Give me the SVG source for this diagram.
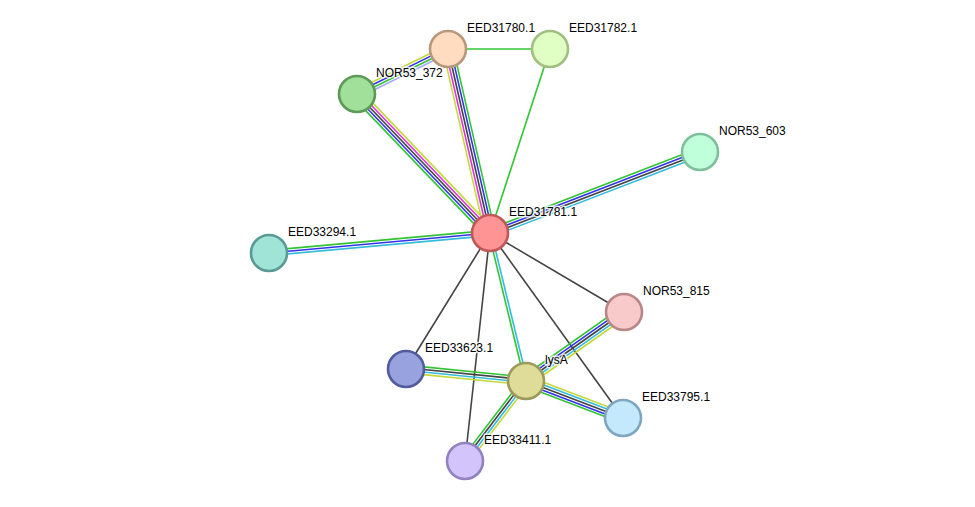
<svg xmlns="http://www.w3.org/2000/svg" width="975" height="507" viewBox="0 0 975 507">
<style>
.e line{stroke-width:1.6;fill:none}
.g{stroke:#33c433}.b{stroke:#3333ee}.k{stroke:#444444}.c{stroke:#33bbdd}.m{stroke:#dd33dd}.y{stroke:#c4d83a}.h{stroke:#a8a8f8}
.n circle{stroke-width:2.6}
.n text{font-family:"Liberation Sans",Arial,sans-serif;font-size:12px;fill:#000;stroke:#fff;stroke-width:3;stroke-opacity:0.8;paint-order:stroke;stroke-linejoin:round}
</style>
<rect width="975" height="507" fill="#fff"/>
<g id="connectors" class="e">
  <!-- EED31780.1 -> central -->
  <g transform="translate(448,49) rotate(77.14)">
    <line class="y" x1="0" y1="5.2" x2="188.7" y2="5.2"/>
    <line class="m" x1="0" y1="2.6" x2="188.7" y2="2.6"/>
    <line class="k" x1="0" y1="0" x2="188.7" y2="0"/>
    <line class="b" x1="0" y1="-2.6" x2="188.7" y2="-2.6"/>
    <line class="g" x1="0" y1="-5.2" x2="188.7" y2="-5.2"/>
  </g>
  <!-- NOR53_372 -> central -->
  <g transform="translate(357,94) rotate(46.26)">
    <line class="y" x1="0" y1="-5.2" x2="192.4" y2="-5.2"/>
    <line class="m" x1="0" y1="-2.6" x2="192.4" y2="-2.6"/>
    <line class="k" x1="0" y1="0" x2="192.4" y2="0"/>
    <line class="b" x1="0" y1="2.6" x2="192.4" y2="2.6"/>
    <line class="g" x1="0" y1="5.2" x2="192.4" y2="5.2"/>
  </g>
  <!-- NOR53_372 -> EED31780.1 -->
  <g transform="translate(357,94) rotate(-26.31)">
    <line class="y" x1="0" y1="-3.9" x2="101.5" y2="-3.9"/>
    <line class="b" x1="0" y1="-1.3" x2="101.5" y2="-1.3"/>
    <line class="g" x1="0" y1="1.3" x2="101.5" y2="1.3"/>
    <line class="h" x1="0" y1="3.9" x2="101.5" y2="3.9"/>
  </g>
  <line class="g" x1="448" y1="49" x2="550" y2="49"/>
  <line class="g" x1="550" y1="49" x2="490" y2="233"/>
  <!-- central -> NOR53_603 -->
  <g transform="translate(490,233) rotate(-21.09)">
    <line class="g" x1="0" y1="-3.9" x2="225.1" y2="-3.9"/>
    <line class="b" x1="0" y1="-1.3" x2="225.1" y2="-1.3"/>
    <line class="k" x1="0" y1="1.3" x2="225.1" y2="1.3"/>
    <line class="c" x1="0" y1="3.9" x2="225.1" y2="3.9"/>
  </g>
  <!-- EED33294.1 -> central -->
  <g transform="translate(269,253) rotate(-5.17)">
    <line class="g" x1="0" y1="-2.6" x2="221.9" y2="-2.6"/>
    <line class="b" x1="0" y1="0" x2="221.9" y2="0"/>
    <line class="c" x1="0" y1="2.6" x2="221.9" y2="2.6"/>
  </g>
  <!-- single black -->
  <line class="k" x1="490" y1="233" x2="624" y2="312"/>
  <line class="k" x1="490" y1="233" x2="406" y2="369"/>
  <line class="k" x1="490" y1="233" x2="465" y2="461"/>
  <line class="k" x1="490" y1="233" x2="623" y2="418"/>
  <!-- central -> lysA -->
  <g transform="translate(490,233) rotate(76.33)">
    <line class="g" x1="0" y1="1.3" x2="152.3" y2="1.3"/>
    <line class="c" x1="0" y1="-1.3" x2="152.3" y2="-1.3"/>
  </g>
  <!-- lysA -> NOR53_815 -->
  <g transform="translate(526,381) rotate(-35.15)">
    <line class="g" x1="0" y1="-5.2" x2="119.9" y2="-5.2"/>
    <line class="b" x1="0" y1="-2.6" x2="119.9" y2="-2.6"/>
    <line class="k" x1="0" y1="0" x2="119.9" y2="0"/>
    <line class="c" x1="0" y1="2.6" x2="119.9" y2="2.6"/>
    <line class="y" x1="0" y1="5.2" x2="119.9" y2="5.2"/>
  </g>
  <!-- EED33623.1 -> lysA -->
  <g transform="translate(406,369) rotate(5.71)">
    <line class="g" x1="0" y1="-3.9" x2="120.6" y2="-3.9"/>
    <line class="k" x1="0" y1="-1.3" x2="120.6" y2="-1.3"/>
    <line class="c" x1="0" y1="1.3" x2="120.6" y2="1.3"/>
    <line class="y" x1="0" y1="3.9" x2="120.6" y2="3.9"/>
  </g>
  <!-- lysA -> EED33795.1 -->
  <g transform="translate(526,381) rotate(20.88)">
    <line class="y" x1="0" y1="-5.2" x2="103.8" y2="-5.2"/>
    <line class="c" x1="0" y1="-2.6" x2="103.8" y2="-2.6"/>
    <line class="k" x1="0" y1="0" x2="103.8" y2="0"/>
    <line class="b" x1="0" y1="2.6" x2="103.8" y2="2.6"/>
    <line class="g" x1="0" y1="5.2" x2="103.8" y2="5.2"/>
  </g>
  <!-- EED33411.1 -> lysA -->
  <g transform="translate(465,461) rotate(-52.67)">
    <line class="g" x1="0" y1="-3.9" x2="100.6" y2="-3.9"/>
    <line class="k" x1="0" y1="-1.3" x2="100.6" y2="-1.3"/>
    <line class="c" x1="0" y1="1.3" x2="100.6" y2="1.3"/>
    <line class="y" x1="0" y1="3.9" x2="100.6" y2="3.9"/>
  </g>
</g>
<g id="EED31780.1" class="n"><circle cx="448" cy="49" r="18" fill="#ffdcbf" stroke="#b8987c"/><text x="467" y="32">EED31780.1</text></g>
<g id="EED31782.1" class="n"><circle cx="550" cy="49" r="18" fill="#e0ffc4" stroke="#a0bf80"/><text x="569" y="32">EED31782.1</text></g>
<g id="NOR53_372" class="n"><circle cx="357" cy="94" r="18" fill="#a0e09a" stroke="#5c9a56"/><text x="376" y="77">NOR53_372</text></g>
<g id="NOR53_603" class="n"><circle cx="700" cy="152" r="18" fill="#bfffd9" stroke="#7fc09c"/><text x="719" y="135">NOR53_603</text></g>
<g id="EED31781.1" class="n"><circle cx="490" cy="233" r="18" fill="#ff9494" stroke="#c05858"/><text x="509" y="216">EED31781.1</text></g>
<g id="EED33294.1" class="n"><circle cx="269" cy="253" r="18" fill="#a0e4d8" stroke="#5a9a94"/><text x="288" y="236">EED33294.1</text></g>
<g id="NOR53_815" class="n"><circle cx="624" cy="312" r="18" fill="#f8caca" stroke="#b88888"/><text x="643" y="295">NOR53_815</text></g>
<g id="EED33623.1" class="n"><circle cx="406" cy="369" r="18" fill="#98a2de" stroke="#525c9c"/><text x="425" y="352">EED33623.1</text></g>
<g id="lysA" class="n"><circle cx="526" cy="381" r="18" fill="#dedc98" stroke="#9c9a5a"/><text x="545" y="364">lysA</text></g>
<g id="EED33795.1" class="n"><circle cx="623" cy="418" r="18" fill="#c4e8fc" stroke="#7ea6c0"/><text x="642" y="401">EED33795.1</text></g>
<g id="EED33411.1" class="n"><circle cx="465" cy="461" r="18" fill="#d4c4fc" stroke="#9282c0"/><text x="484" y="444">EED33411.1</text></g>
</svg>
